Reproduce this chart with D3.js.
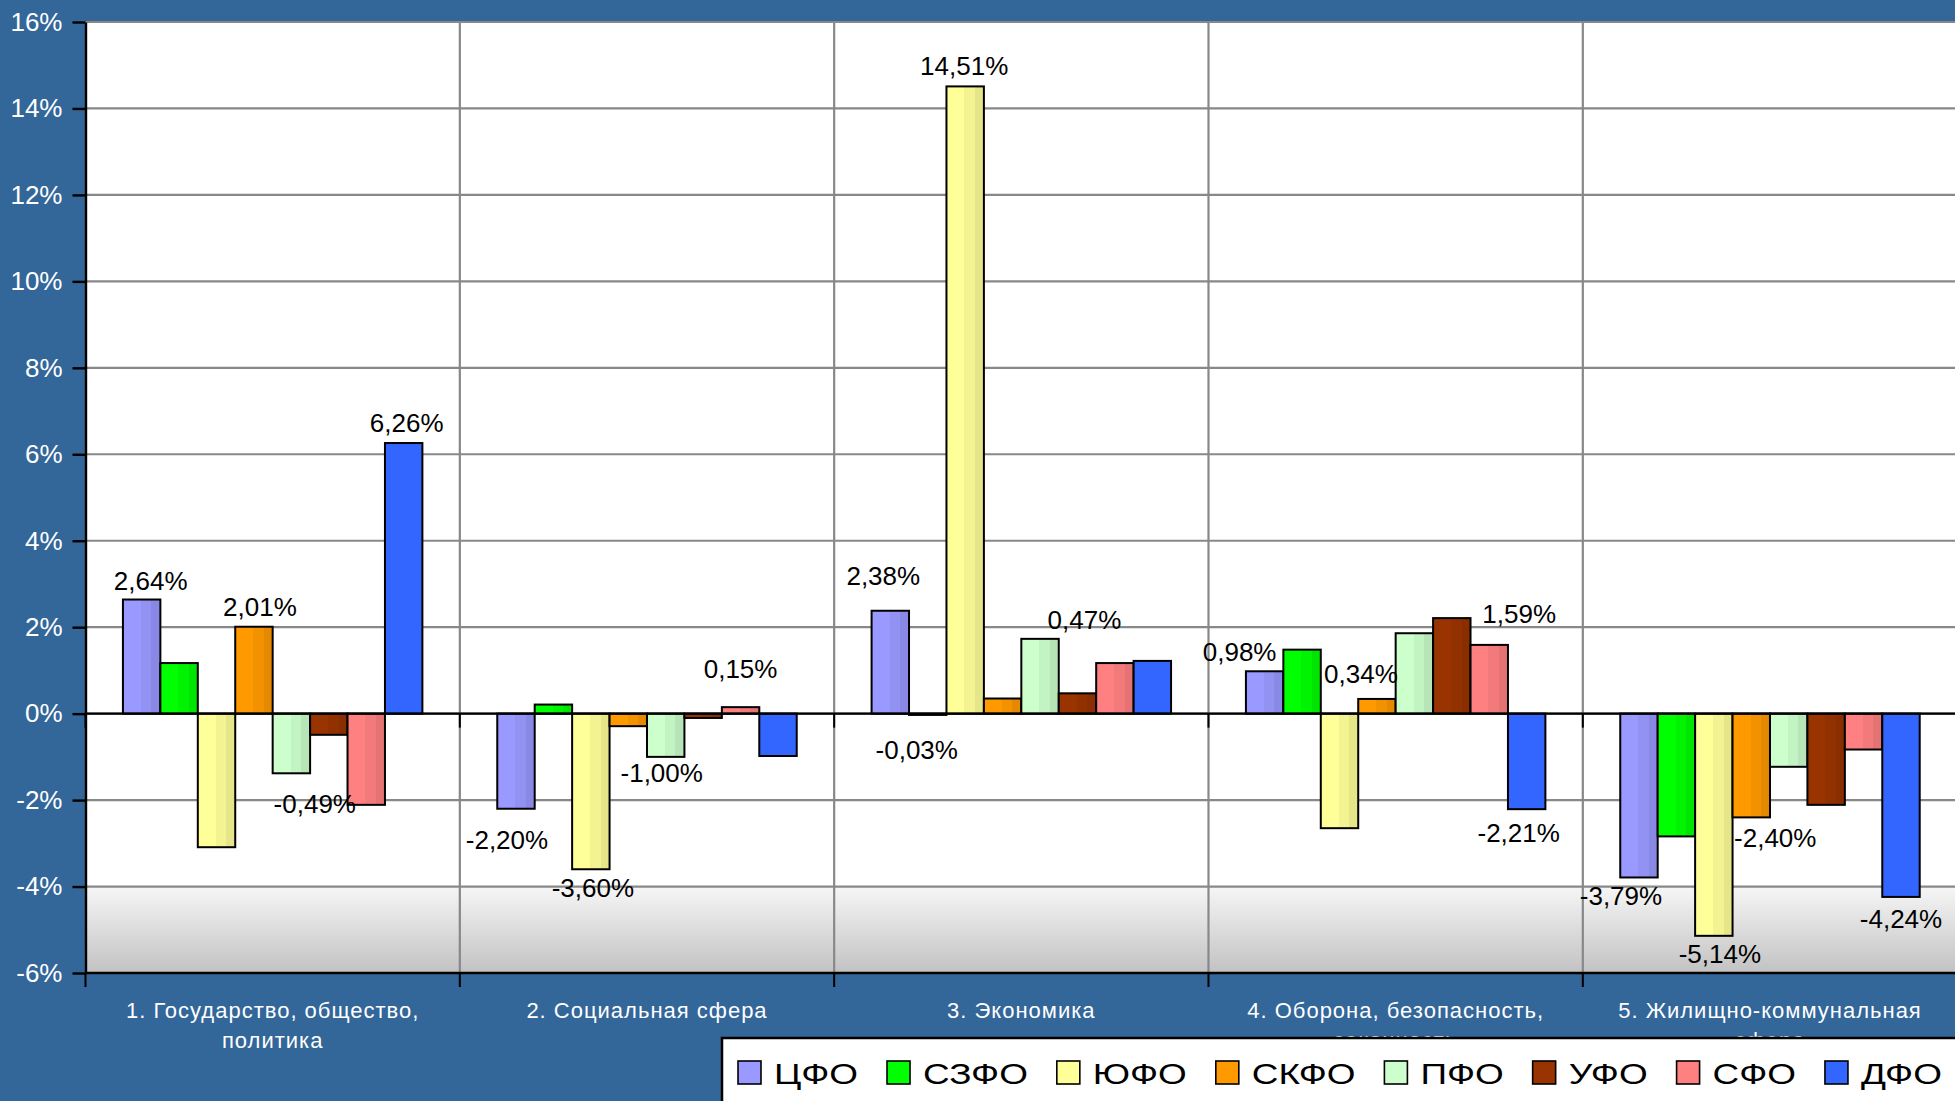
<!DOCTYPE html>
<html>
<head>
<meta charset="utf-8">
<script src="https://cdn.jsdelivr.net/npm/d3@7"></script>
<style>
  html, body { margin: 0; padding: 0; background: #336699; overflow: hidden; }
  svg { display: block; font-family: "Liberation Sans", Arial, sans-serif; }
</style>
</head>
<body>
<svg id="chart" width="1955" height="1101"></svg>
<script>
// ---- data ----
const categories = [
  "1. Государство, общество, политика",
  "2. Социальная сфера",
  "3. Экономика",
  "4. Оборона, безопасность, законность",
  "5. Жилищно-коммунальная сфера"
];
const seriesNames = ["ЦФО", "СЗФО", "ЮФО", "СКФО", "ПФО", "УФО", "СФО", "ДФО"];

// change by district, % (one value per category)
const cfo  = [ 2.64, -2.20,  2.38,  0.98, -3.79];
const szfo = [ 1.17,  0.21, -0.03,  1.48, -2.84];
const yufo = [-3.09, -3.60, 14.51, -2.65, -5.14];
const skfo = [ 2.01, -0.29,  0.35,  0.34, -2.40];
const pfo  = [-1.38, -1.00,  1.73,  1.86, -1.23];
const ufo  = [-0.49, -0.10,  0.47,  2.21, -2.11];
const sfo  = [-2.11,  0.15,  1.17,  1.59, -0.83];
const dfo  = [ 6.26, -0.98,  1.22, -2.21, -4.24];
const seriesValues = [cfo, szfo, yufo, skfo, pfo, ufo, sfo, dfo];

const yTicks = [-6, -4, -2, 0, 2, 4, 6, 8, 10, 12, 14, 16];

// which districts carry a value label, per category
const labelledSeries = [[0, 3, 5, 7], [0, 2, 4, 6], [0, 1, 2, 5], [0, 3, 6, 7], [0, 2, 3, 7]];

// ---- styling / layout ----
const seriesColors = ["#9999FF", "#00FF00", "#FFFF99", "#FF9900", "#CCFFCC", "#993300", "#FF8080", "#3366FF"];
const seriesShaded = [true, true, true, true, true, true, true, false];
// hand-placed offsets [dx, dy] of the value labels, same order as labelledSeries
const labelNudge = [
  [[9, 1], [6, 0], [-14, 50], [3, 0]],
  [[-9, 12], [2, 0], [-4, -3], [0, -18]],
  [[-7, -15], [-11, 16], [-1, 0], [7, -53]],
  [[-25, 1], [-16, -5], [30, -11], [-8, 5]],
  [[-18, 0], [6, -1], [24, 2], [0, 3]]
];

const W = 1955, H = 1101;
const plot = { left: 85.5, right: 85.5 + 5 * 374.33, top: 22, bottom: 973 };
const legendStretch = 1.23;

const ru = d3.formatLocale({ decimal: ",", thousands: " ", grouping: [3], currency: ["", " ₽"], minus: "-" });
const fmtValue = v => ru.format(".2f")(v) + "%";
const fmtTick = v => ru.format("d")(v) + "%";

const svg = d3.select("#chart");
const defs = svg.append("defs");

const x0 = d3.scaleBand().domain(categories).range([plot.left, plot.right])
  .paddingInner(0.2).paddingOuter(0.1);
const x1 = d3.scaleBand().domain(seriesNames).range([0, x0.bandwidth()]);
const y = d3.scaleLinear().domain([-6, 16]).range([plot.bottom, plot.top]);
const boundary = i => plot.left + i * x0.step();

// background
svg.append("rect").attr("width", W).attr("height", H).attr("fill", "#336699");

// plot area with the grey fade in the lowest band
const fade = defs.append("linearGradient").attr("id", "fade")
  .attr("x1", 0).attr("y1", 0).attr("x2", 0).attr("y2", 1);
fade.append("stop").attr("offset", 0).attr("stop-color", "#F6F6F6");
fade.append("stop").attr("offset", 1).attr("stop-color", "#C2C2C2");

svg.append("rect")
  .attr("x", plot.left).attr("y", plot.top)
  .attr("width", plot.right - plot.left).attr("height", plot.bottom - plot.top)
  .attr("fill", "#FFFFFF");
svg.append("rect")
  .attr("x", plot.left).attr("y", y(-4))
  .attr("width", plot.right - plot.left).attr("height", y(-6) - y(-4))
  .attr("fill", "url(#fade)");

// gridlines
svg.append("g").selectAll("line").data(yTicks).join("line")
  .attr("x1", plot.left).attr("x2", plot.right)
  .attr("y1", d => y(d)).attr("y2", d => y(d))
  .attr("stroke", "#888888").attr("stroke-width", 2.2);
svg.append("g").selectAll("line").data(d3.range(1, 5)).join("line")
  .attr("x1", boundary).attr("x2", boundary)
  .attr("y1", plot.top).attr("y2", plot.bottom)
  .attr("stroke", "#888888").attr("stroke-width", 2.2);

// bar fills: banded horizontal shading
seriesColors.forEach((c, i) => {
  const g = defs.append("linearGradient").attr("id", "bar" + i)
    .attr("x1", 0).attr("y1", 0).attr("x2", 1).attr("y2", 0);
  const base = d3.color(c);
  const mid = seriesShaded[i] ? base.darker(0.14) : base;
  const dark = seriesShaded[i] ? base.darker(0.3) : base;
  [[0, base], [0.48, base], [0.48, mid], [0.76, mid], [0.76, dark], [1, dark]]
    .forEach(([o, col]) => g.append("stop").attr("offset", o).attr("stop-color", col.formatHex()));
});

// bars
const barData = [];
categories.forEach((cat, ci) => {
  seriesNames.forEach((s, si) => {
    barData.push({ cat, ci, s, si, v: seriesValues[si][ci] });
  });
});

svg.append("g").selectAll("rect").data(barData).join("rect")
  .attr("x", d => x0(d.cat) + x1(d.s))
  .attr("width", x1.bandwidth())
  .attr("y", d => Math.min(y(d.v), y(0)))
  .attr("height", d => Math.abs(y(d.v) - y(0)))
  .attr("fill", d => `url(#bar${d.si})`)
  .attr("stroke", "#000").attr("stroke-width", 2);

// category axis at zero and along the bottom
[0, -6].forEach(v => {
  const g = svg.append("g");
  g.append("line")
    .attr("x1", plot.left).attr("x2", plot.right)
    .attr("y1", y(v)).attr("y2", y(v))
    .attr("stroke", "#000").attr("stroke-width", 2.4);
  g.selectAll("line.tick").data(d3.range(0, 6)).join("line").attr("class", "tick")
    .attr("x1", boundary).attr("x2", boundary)
    .attr("y1", y(v)).attr("y2", y(v) + 14)
    .attr("stroke", "#000").attr("stroke-width", 2);
});

// value axis
const yAxis = svg.append("g")
  .attr("transform", `translate(${plot.left},0)`)
  .call(d3.axisLeft(y).tickValues(yTicks).tickFormat(fmtTick).tickSize(13).tickSizeOuter(0).tickPadding(10));
yAxis.select(".domain").attr("stroke", "#000").attr("stroke-width", 2.4);
yAxis.selectAll(".tick line").attr("stroke", "#000").attr("stroke-width", 2.4);
yAxis.selectAll(".tick text")
  .attr("fill", "#FFFFFF")
  .style("font-family", "'Liberation Sans', Arial, sans-serif")
  .style("font-size", "26px");

// category labels, wrapped to the band
function wrap(text, width) {
  text.each(function () {
    const t = d3.select(this);
    const words = t.text().split(/\s+/);
    const xPos = t.attr("x");
    t.text(null);
    let line = [];
    let tspan = t.append("tspan").attr("x", xPos).attr("dy", 0);
    words.forEach(w => {
      line.push(w);
      tspan.text(line.join(" "));
      if (tspan.node().getComputedTextLength() > width && line.length > 1) {
        line.pop();
        tspan.text(line.join(" "));
        line = [w];
        tspan = t.append("tspan").attr("x", xPos).attr("dy", 30).text(w);
      }
    });
  });
}

svg.append("g").selectAll("text").data(categories).join("text")
  .attr("x", d => x0(d) + x0.bandwidth() / 2)
  .attr("y", 1018)
  .attr("text-anchor", "middle")
  .attr("fill", "#FFFFFF")
  .style("font-size", "22px")
  .style("letter-spacing", "1px")
  .text(d => d)
  .call(wrap, 320);

// value labels
const labelData = [];
labelledSeries.forEach((list, ci) => {
  list.forEach((si, k) => {
    const v = seriesValues[si][ci];
    const [dx, dy] = labelNudge[ci][k];
    labelData.push({ ci, si, v, dx, dy });
  });
});

svg.append("g").selectAll("text").data(labelData).join("text")
  .attr("x", d => x0(categories[d.ci]) + x1(seriesNames[d.si]) + x1.bandwidth() / 2 + d.dx)
  .attr("y", d => (d.v >= 0 ? y(d.v) - 11 : y(d.v) + 28) + d.dy)
  .attr("text-anchor", "middle")
  .attr("fill", "#000")
  .style("font-size", "26px")
  .text(d => fmtValue(d.v));

// legend
const legend = svg.append("g");
legend.append("rect")
  .attr("x", 722).attr("y", 1038)
  .attr("width", 1300).attr("height", 120)
  .attr("fill", "#FFFFFF").attr("stroke", "#000").attr("stroke-width", 2.5);
let lx = 738;
seriesNames.forEach((s, i) => {
  legend.append("rect")
    .attr("x", lx).attr("y", 1061)
    .attr("width", 23).attr("height", 23)
    .attr("fill", seriesColors[i]).attr("stroke", "#000").attr("stroke-width", 1.6);
  const t = legend.append("text")
    .attr("transform", `translate(${lx + 36},1084) scale(${legendStretch},1)`)
    .attr("fill", "#000")
    .style("font-size", "30px")
    .text(s);
  lx += 36 + t.node().getComputedTextLength() * legendStretch + 29;
});
</script>
</body>
</html>
